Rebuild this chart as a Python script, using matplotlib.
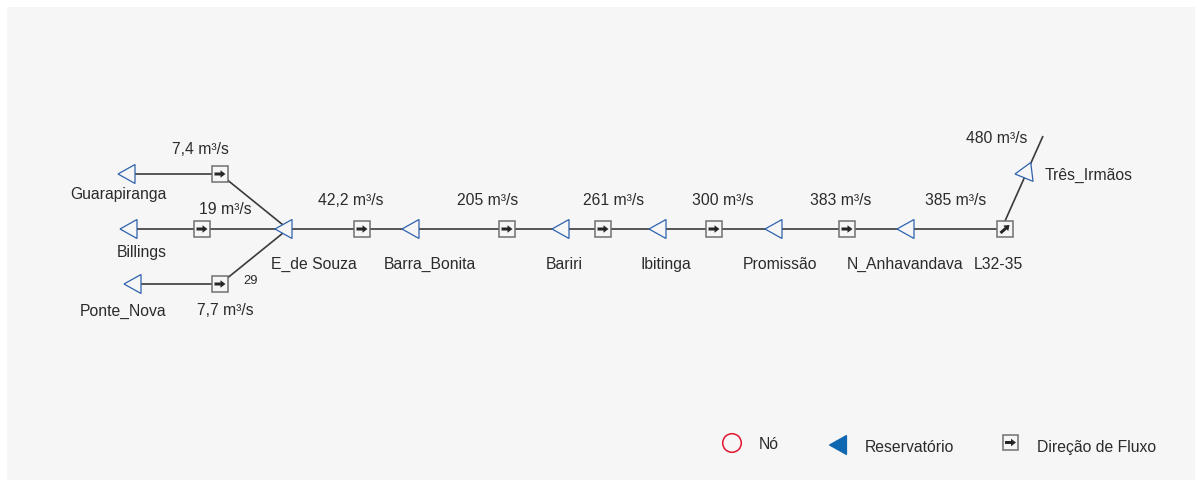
import numpy as np
import matplotlib
matplotlib.use("Agg")
import matplotlib.pyplot as plt
from matplotlib.patches import Rectangle, Circle, Polygon, FancyArrow

plt.rcParams["font.family"] = ["Liberation Sans", "DejaVu Sans"]

# schematic positions (x, y in picture pixels)
reservoir_names = ["Guarapiranga", "Billings", "Ponte_Nova", "E_de Souza", "Barra_Bonita",
                   "Bariri", "Ibitinga", "Promissão", "N_Anhavandava", "Três_Irmãos"]
reservoir_tip_x = [118, 120, 124, 275, 402, 552, 649, 765, 897, 1015]
reservoir_y = [175, 230, 285, 230, 230, 230, 230, 230, 230, 175]
reservoir_angle = [0, 0, 0, 0, 0, 0, 0, 0, 0, -7]
label_x = [118, 142, 123, 313.5, 429.5, 564.5, 666, 780, 905, 1088.5]
label_y = [195, 252.5, 311, 264.5, 264.5, 264.5, 264.5, 264.5, 264.5, 175.5]

flow_labels = ["7,4 m³/s", "19 m³/s", "7,7 m³/s", "42,2 m³/s", "205 m³/s", "261 m³/s",
               "300 m³/s", "383 m³/s", "385 m³/s", "480 m³/s"]
flow_label_x = [200, 225, 225.5, 351, 488, 614, 723, 841, 956, 997]
flow_label_y = [150, 209.5, 310.5, 200.5, 200.5, 200.5, 200.5, 200.5, 200.5, 139]

box_x = [220, 202, 220, 362, 507, 603, 714, 847, 1005]
box_y = [175, 230, 285, 230, 230, 230, 230, 230, 230]
box_dir = [(1, 0), (1, 0), (1, 0), (1, 0), (1, 0), (1, 0), (1, 0), (1, 0), (1, -1)]

links = [
    ([127, 220, 288], [175, 175, 230]),
    ([127, 288], [230, 230]),
    ([133, 220, 288], [285, 285, 230]),
    ([288, 1005], [230, 230]),
    ([1005, 1043], [222, 137]),
]

legend_labels = ["Nó", "Reservatório", "Direção de Fluxo"]
legend_label_x = [769, 909, 1097]
legend_label_y = [444.5, 447.5, 447.5]

PANEL = "#f6f6f6"
BLUE = "#2f62ad"
TEXT = "#2b2b2b"
FS = 11.3


def draw_triangle(ax, tip_x, y, angle=0, filled=False):
    pts = np.array([[0, 0], [17, -9.5], [17, 9.5]], dtype=float)
    a = np.radians(angle)
    rot = np.array([[np.cos(a), -np.sin(a)], [np.sin(a), np.cos(a)]])
    pts = pts @ rot.T + [tip_x, y]
    ax.add_patch(Polygon(pts, closed=True, fc="#0f67b1" if filled else PANEL,
                         ec="#0f67b1" if filled else BLUE, lw=0.9, zorder=3))


def draw_box(ax, x, y, d=(1, 0)):
    ax.add_patch(Rectangle((x - 7.7, y - 7.7), 15.4, 15.4, fc=PANEL, ec="#707070", lw=1.1, zorder=3))
    dx, dy = d
    if dy == 0:
        start, length = (x - 5.5, y), (11, 0)
    else:
        start, length = (x - 4.5, y + 4), (9, -8)
    ax.add_patch(FancyArrow(start[0], start[1], length[0], length[1], width=3, head_width=7.5,
                            head_length=5, length_includes_head=True, fc="#262626", ec="none",
                            zorder=4))


fig = plt.figure(figsize=(12.02, 4.81), dpi=100, facecolor="white")
ax = fig.add_axes([0, 0, 1, 1])
ax.set_xlim(0, 1202)
ax.set_ylim(481, 0)
ax.axis("off")

ax.add_patch(Rectangle((7, 8), 1188, 473, fc=PANEL, ec="none", zorder=0))

for xs, ys in links:
    ax.plot(xs, ys, color="#3a3a3a", lw=1.2, zorder=1, solid_capstyle="butt")

for x, y, a in zip(reservoir_tip_x, reservoir_y, reservoir_angle):
    draw_triangle(ax, x, y, a)

for x, y, d in zip(box_x, box_y, box_dir):
    draw_box(ax, x, y, d)

for name, x, y in zip(reservoir_names, label_x, label_y):
    ax.text(x, y, name, ha="center", va="center", fontsize=FS, color=TEXT)

for name, x, y in zip(flow_labels, flow_label_x, flow_label_y):
    ax.text(x, y, name, ha="center", va="center", fontsize=FS, color=TEXT)

ax.text(998.5, 264.5, "L32-35", ha="center", va="center", fontsize=FS, color=TEXT)
ax.text(250.5, 281.5, "29", ha="center", va="center", fontsize=9.4, color=TEXT)

# legend
ax.add_patch(Circle((732, 444), 9.3, fc="none", ec="#e3142d", lw=1.1, zorder=3))
draw_triangle(ax, 829.5, 446, filled=True)
draw_box(ax, 1010.5, 443.5)
for name, x, y in zip(legend_labels, legend_label_x, legend_label_y):
    ax.text(x, y, name, ha="center", va="center", fontsize=FS, color=TEXT)

fig.savefig("out.png", dpi=100, facecolor="white")
